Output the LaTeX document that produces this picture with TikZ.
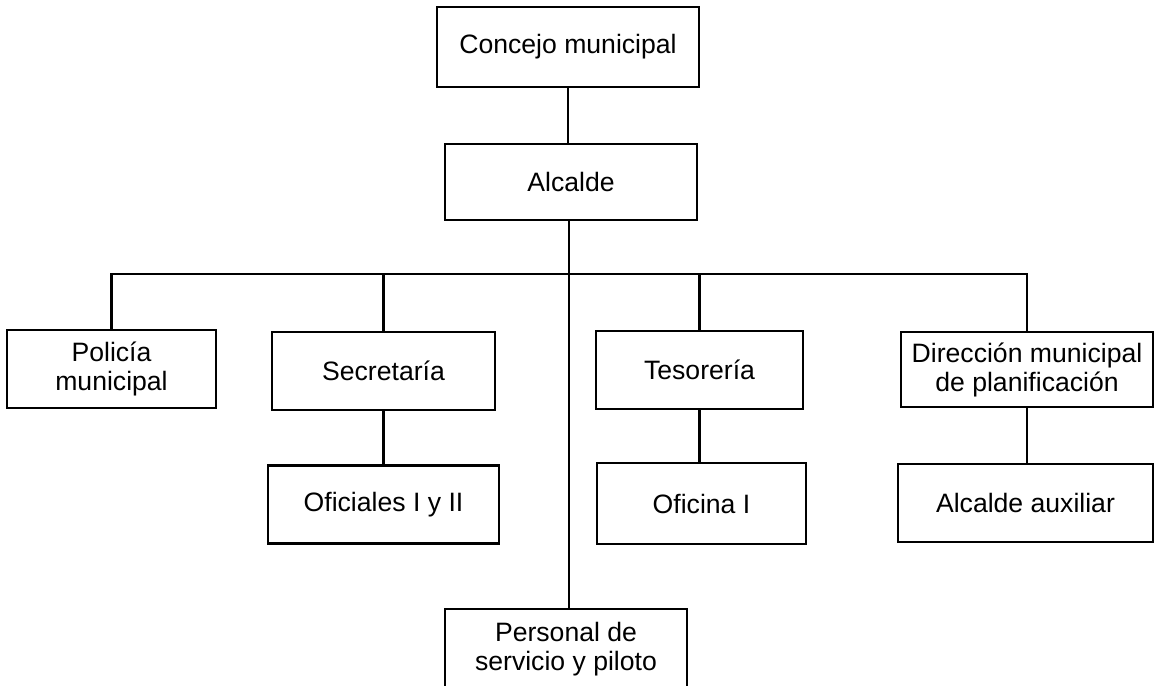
\documentclass[tikz,border=0pt]{standalone}
\usepackage{fontspec}
\setmainfont{Liberation Sans}
\begin{document}
\begin{tikzpicture}[x=1pt, y=-1pt,
                    line width=2.8pt,
                    font=\fontsize{26.6}{29}\selectfont,
                    ]
    \tikzstyle{office}=[draw, rectangle, align=center, inner sep=0pt, line width=2.8pt];
    \tikzstyle{top}=[office, minimum height=78pt];
    \tikzstyle{low}=[office, minimum height=78pt];

    \useasboundingbox[fill=white] (0,0) rectangle (1158,685);

    \node[top, minimum width=262pt, minimum height=80pt] (concejo) at (568,47) {Concejo municipal};
    \node[top, minimum width=252pt, minimum height=76pt] (alcalde) at (571,182) {Alcalde};

    \node[top, minimum width=209pt] (policia) at (111.5,369) {Policía\\municipal};
    \node[top, minimum width=223pt] (secretaria) at (383.5,371) {Secretaría};
    \node[top, minimum width=207pt] (tesoreria) at (699.5,370) {Tesorería};
    \node[top, minimum width=252pt, minimum height=75pt] (direccion) at (1027,369.5) {Dirección municipal\\de planificación};

    \node[low, minimum width=231pt] (oficiales) at (383.5,504.5) {Oficiales I y II};
    \node[low, minimum width=209pt, minimum height=81pt] (oficina) at (701.5,503.5) {Oficina I};
    \node[low, minimum width=255pt] (auxiliar) at (1025.5,503) {Alcalde auxiliar};

    \node[low, minimum width=242pt, minimum height=80pt] (personal) at (566,649) {Personal de\\servicio y piloto};

    \coordinate (bus) at (569,274);

    \draw (concejo.south) -- (concejo.south |- alcalde.north);
    \draw (alcalde.south -| bus) -- (personal.north -| bus);
    \draw (policia.north) |- (bus) -| (direccion.north);
    \draw (secretaria.north) -- (secretaria.north |- bus);
    \draw (tesoreria.north) -- (tesoreria.north |- bus);
    \draw (secretaria.south) -- (secretaria.south |- oficiales.north);
    \draw (tesoreria.south) -- (tesoreria.south |- oficina.north);
    \draw (direccion.south) -- (direccion.south |- auxiliar.north);
\end{tikzpicture}
\end{document}
